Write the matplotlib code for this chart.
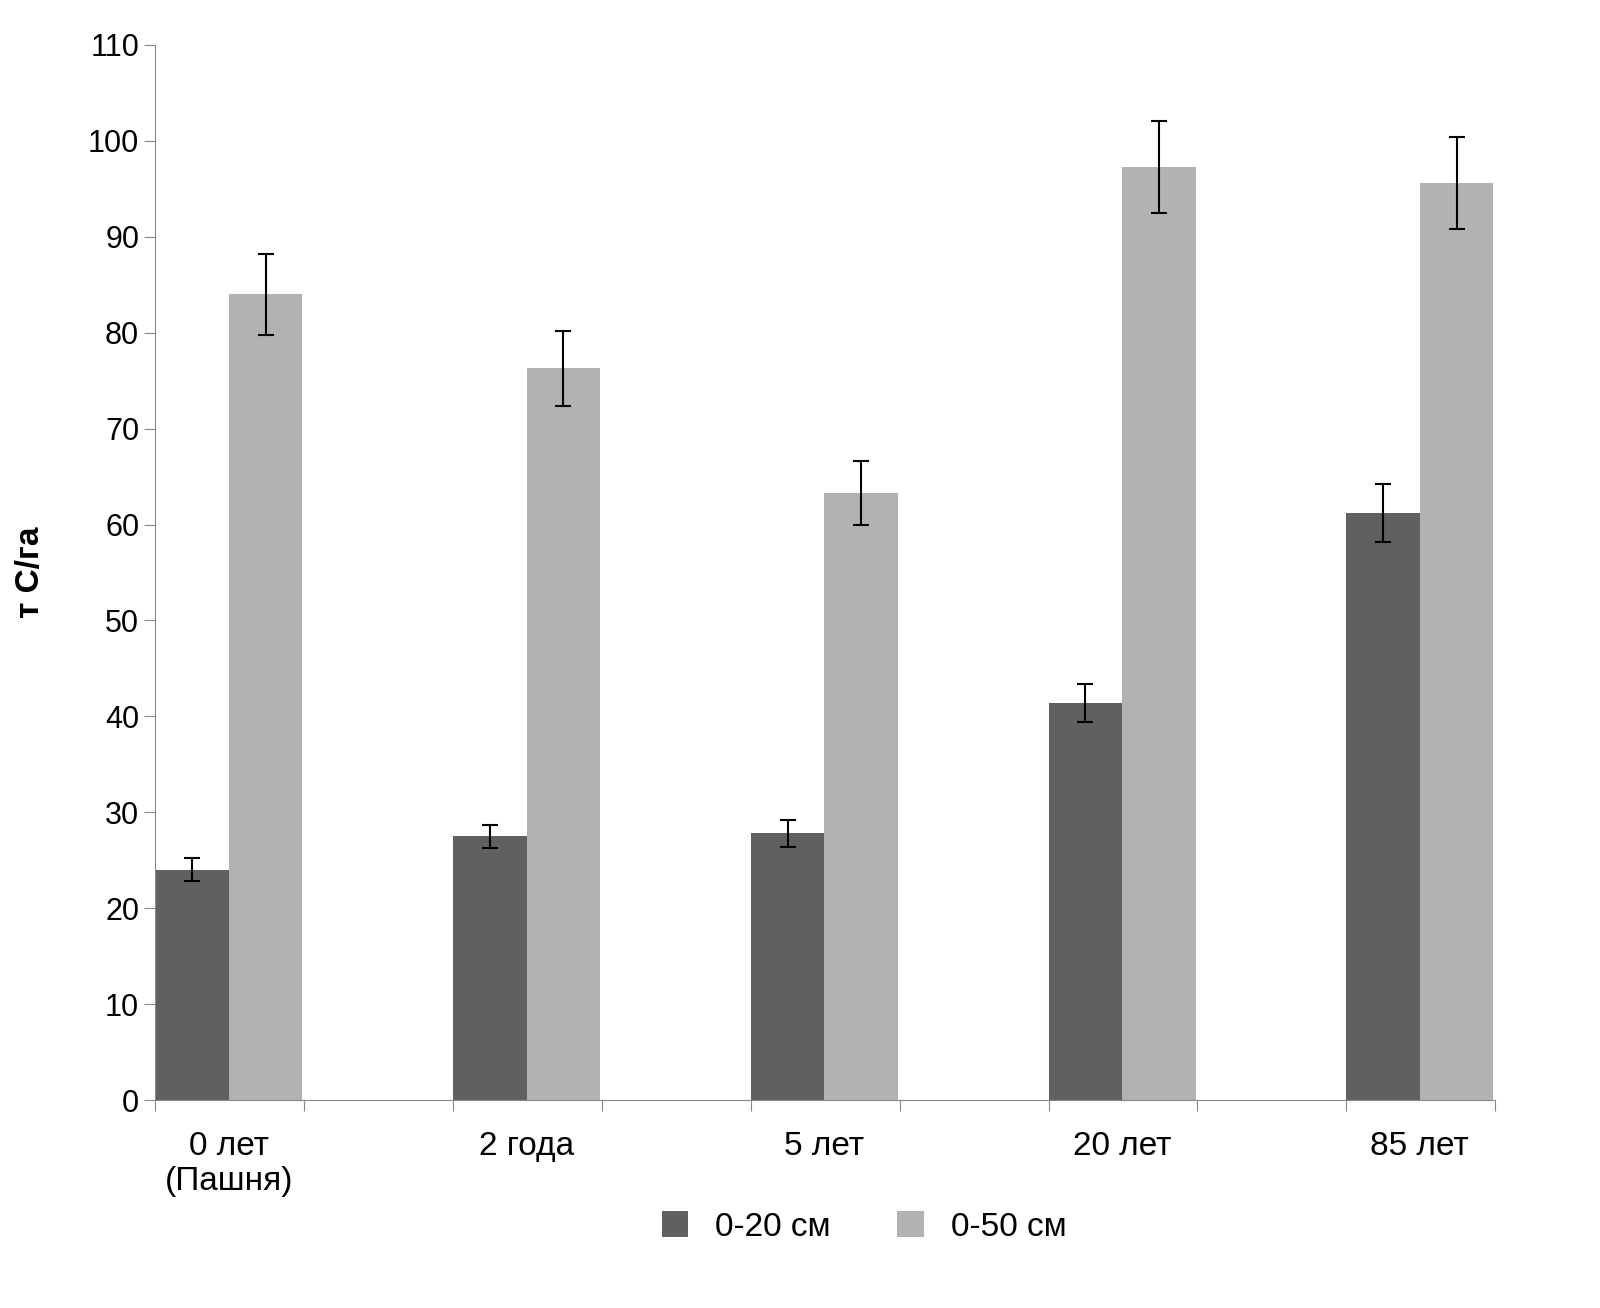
import matplotlib.pyplot as plt
import numpy as np

categories = ["0 лет\n(Пашня)", "2 года", "5 лет", "20 лет", "85 лет"]
shallow = [24.0, 27.5, 27.8, 41.4, 61.2]
shallow_err = [1.2, 1.2, 1.4, 2.0, 3.0]
deep = [84.0, 76.3, 63.3, 97.3, 95.6]
deep_err = [4.2, 3.9, 3.3, 4.8, 4.8]

plt.rcParams['font.family'] = ['Liberation Sans', 'DejaVu Sans']
fig = plt.figure(figsize=(16, 13.08), dpi=100)
ax = fig.add_axes([0.097, 0.159, 0.8375, 0.8066])

x = np.arange(len(categories))
w = 0.247
ekw = dict(elinewidth=1.5, capthick=1.5)
ax.bar(x + w / 2, shallow, w, yerr=shallow_err, capsize=6, color='#606060',
       error_kw=ekw, label='0-20 см')
ax.bar(x + 1.5 * w, deep, w, yerr=deep_err, capsize=6, color='#b2b2b2',
       error_kw=ekw, label='0-50 см')

ax.set_xlim(0, 4.5)
ax.set_ylim(0, 110)
ax.set_yticks(range(0, 111, 10))
ax.set_xticks(np.arange(0, 4.51, 0.5))
ax.set_xticklabels([])
ax.set_xticks(x + w, categories, minor=True)
ax.tick_params(axis='x', which='minor', length=0, labelsize=24, pad=22)
ax.tick_params(axis='x', which='major', length=8, color='#888888')
ax.tick_params(axis='y', labelsize=22, length=8, color='#888888')
for s in ['top', 'right']:
    ax.spines[s].set_visible(False)
for s in ['left', 'bottom']:
    ax.spines[s].set_color('#888888')
ax.set_ylabel('т С/га', fontsize=24, fontweight='bold', labelpad=30)
fig.legend(loc='center', bbox_to_anchor=(0.54, 0.062), ncol=2, frameon=False,
           fontsize=24, handlelength=0.8, handleheight=0.8, columnspacing=2)
fig.savefig('out.png')
